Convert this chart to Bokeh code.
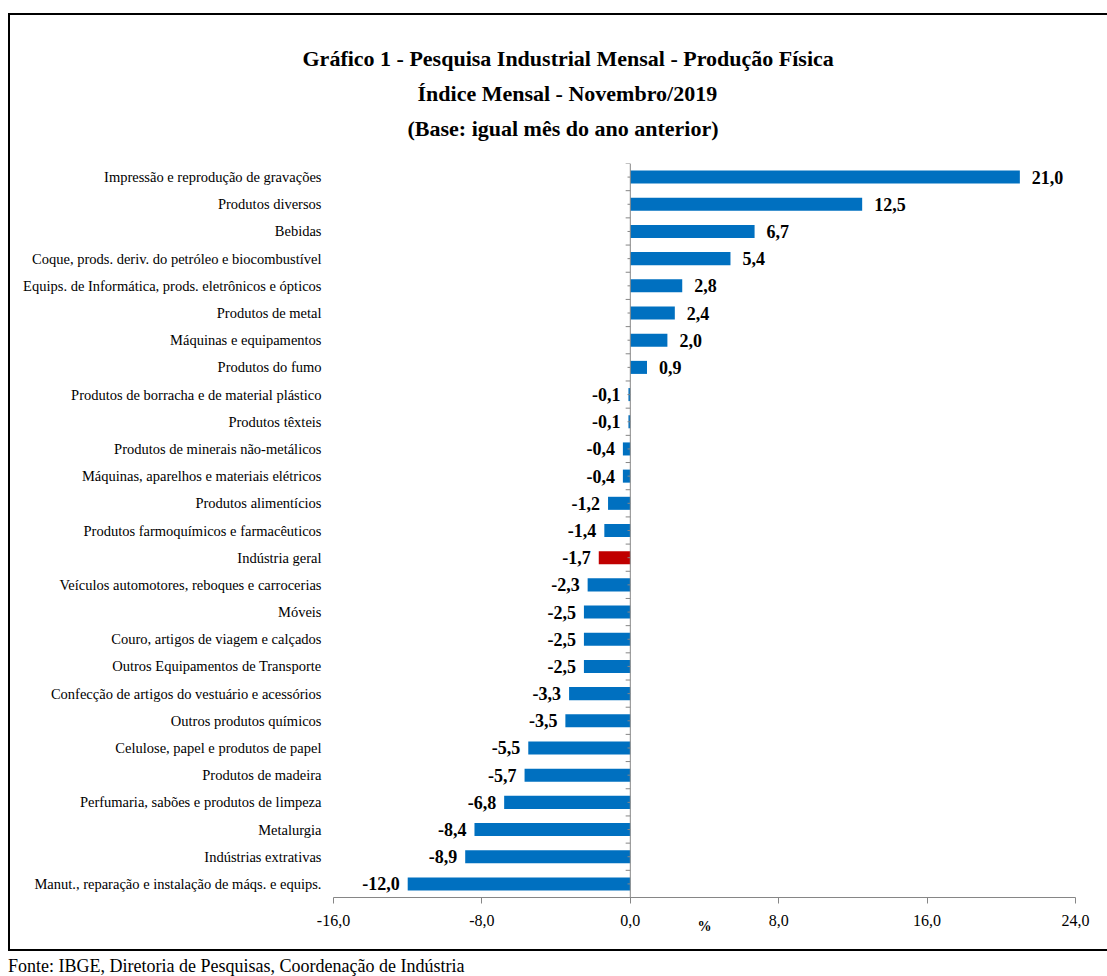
from bokeh.plotting import figure
from bokeh.models import (ColumnDataSource, Range1d, FixedTicker, Span, Title,
                          Div)
from bokeh.layouts import column
from bokeh.core.properties import value
from bokeh.embed import file_html
from bokeh.resources import INLINE

categories = [
    "Impressão e reprodução de gravações",
    "Produtos diversos",
    "Bebidas",
    "Coque, prods. deriv. do petróleo e biocombustível",
    "Equips. de Informática, prods. eletrônicos e ópticos",
    "Produtos de metal",
    "Máquinas e equipamentos",
    "Produtos do fumo",
    "Produtos de borracha e de material plástico",
    "Produtos têxteis",
    "Produtos de minerais não-metálicos",
    "Máquinas, aparelhos e materiais elétricos",
    "Produtos alimentícios",
    "Produtos farmoquímicos e farmacêuticos",
    "Indústria geral",
    "Veículos automotores, reboques e carrocerias",
    "Móveis",
    "Couro, artigos de viagem e calçados",
    "Outros Equipamentos de Transporte",
    "Confecção de artigos do vestuário e acessórios",
    "Outros produtos químicos",
    "Celulose, papel e produtos de papel",
    "Produtos de madeira",
    "Perfumaria, sabões e produtos de limpeza",
    "Metalurgia",
    "Indústrias extrativas",
    "Manut., reparação e instalação de máqs. e equips.",
]
values = [21.0, 12.5, 6.7, 5.4, 2.8, 2.4, 2.0, 0.9, -0.1, -0.1, -0.4, -0.4,
          -1.2, -1.4, -1.7, -2.3, -2.5, -2.5, -2.5, -3.3, -3.5, -5.5, -5.7,
          -6.8, -8.4, -8.9, -12.0]
highlight = "Indústria geral"
x_ticks = [-16, -8, 0, 8, 16, 24]
x_tick_labels = ["-16,0", "-8,0", "0,0", "8,0", "16,0", "24,0"]
title_lines = [
    "Gráfico 1 - Pesquisa Industrial Mensal - Produção Física",
    "Índice Mensal - Novembro/2019",
    "(Base: igual mês do ano anterior)",
]
footer = "Fonte: IBGE, Diretoria de Pesquisas, Coordenação de Indústria"

FONT = "Liberation Serif"
BLUE = "#0070C0"
RED = "#C00000"
GRAY = "#868686"

n = len(categories)
ypos = [n - 1 - i + 0.5 for i in range(n)]
colors = [RED if c == highlight else BLUE for c in categories]
fmt = [("%.1f" % v).replace(".", ",") for v in values]

pos_src = ColumnDataSource(dict(
    y=[y for y, v in zip(ypos, values) if v >= 0],
    x=[v for v in values if v >= 0],
    t=[f for f, v in zip(fmt, values) if v >= 0]))
neg_src = ColumnDataSource(dict(
    y=[y for y, v in zip(ypos, values) if v < 0],
    x=[v for v in values if v < 0],
    t=[f for f, v in zip(fmt, values) if v < 0]))
src = ColumnDataSource(dict(y=ypos, v=values, c=colors))

p = figure(frame_width=740, frame_height=730, output_backend="svg",
           toolbar_location=None, x_range=Range1d(-16, 24),
           y_range=Range1d(0, n), min_border_left=323,
           min_border_right=34, min_border_top=148,
           min_border_bottom=56)
p.outline_line_color = None
p.grid.visible = False
p.background_fill_color = "white"
p.border_fill_color = "white"
p.styles = {"margin-left": "8px", "margin-top": "13px",
            "box-sizing": "content-box",
            "overflow": "hidden",
            "border-left": "2px solid black",
            "border-top": "2px solid black",
            "border-bottom": "2px solid black",
            "border-right": "0px none"}

p.hbar(y="y", left=0, right="v", height=0.48, color="c", source=src,
       line_color=None)

# zero line with small ticks
p.add_layout(Span(location=0, dimension="height", line_color=GRAY,
                  line_width=1))
bounds = list(range(0, n + 1))
p.segment(x0=[-0.25] * len(bounds), x1=[0] * len(bounds), y0=bounds,
          y1=bounds, line_color=GRAY, line_width=1)
p.segment(x0=[-0.15] * n, x1=[0] * n, y0=ypos, y1=ypos, line_color=GRAY,
          line_width=1)

# value labels
p.text(x="x", y="y", text="t", source=pos_src, x_offset=12,
       text_align="left", text_baseline="middle", text_font=value(FONT),
       text_font_size="18px", text_font_style="bold", text_color="black")
p.text(x="x", y="y", text="t", source=neg_src, x_offset=-8,
       text_align="right", text_baseline="middle", text_font=value(FONT),
       text_font_size="18px", text_font_style="bold", text_color="black")

# x axis
xa = p.xaxis[0]
xa.ticker = FixedTicker(ticks=x_ticks)
xa.major_label_overrides = {t: l for t, l in zip(x_ticks, x_tick_labels)}
xa.minor_tick_line_color = None
xa.major_tick_in = 0
xa.major_tick_out = 6
xa.axis_line_color = GRAY
xa.major_tick_line_color = GRAY
xa.major_label_text_font = FONT
xa.major_label_text_font_size = "16px"
xa.major_label_text_color = "black"
xa.major_label_standoff = 11
xa.axis_label = "%"
xa.axis_label_text_font = FONT
xa.axis_label_text_font_size = "14px"
xa.axis_label_text_font_style = "bold"
xa.axis_label_text_color = "black"
xa.axis_label_standoff = -10

# y axis (category labels)
ya = p.yaxis[0]
ya.ticker = FixedTicker(ticks=ypos)
ya.major_label_overrides = {y: c for y, c in zip(ypos, categories)}
ya.axis_line_color = None
ya.major_tick_line_color = None
ya.minor_tick_line_color = None
ya.major_label_standoff = 6
ya.major_label_text_font = FONT
ya.major_label_text_font_size = "14.5px"
ya.major_label_text_color = "black"

# titles (added nearest-first); offsets center each line near x=565
p.add_layout(Title(text=" ", text_font_size="10px", standoff=6), "above")
offsets = [-31, 84, 74]
for txt, off in reversed(list(zip(title_lines, offsets))):
    p.add_layout(Title(text=txt, align="left", offset=off, standoff=8,
                       text_font=FONT, text_font_size="22px",
                       text_font_style="bold", text_color="black"), "above")

foot = Div(text=footer, width=620, height=25,
           styles={"margin-left": "8px", "font-family": FONT,
                   "font-size": "18px", "line-height": "20px",
                   "color": "black", "white-space": "nowrap"})

layout = column(p, foot)
open("out.html", "w").write(file_html(layout, INLINE))
